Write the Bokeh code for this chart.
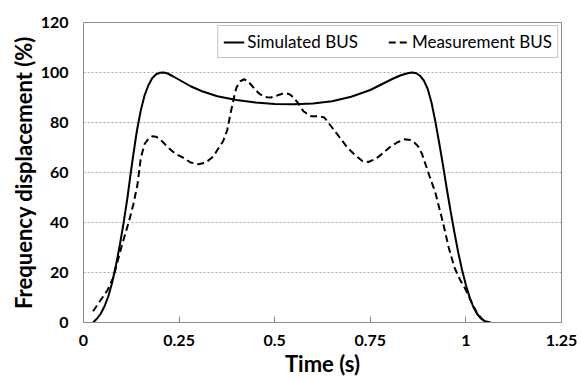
from bokeh.plotting import figure
from bokeh.models import Legend, LegendItem, FixedTicker, Range1d
from bokeh.embed import file_html
from bokeh.resources import INLINE

# Simulated BUS
t_sim = [0.025, 0.035, 0.045, 0.055, 0.065, 0.075, 0.085, 0.095, 0.105, 0.115, 0.125,
         0.135, 0.14, 0.15, 0.16, 0.17, 0.18, 0.19, 0.20, 0.21, 0.22, 0.235, 0.25,
         0.28, 0.31, 0.35, 0.40, 0.45, 0.50, 0.55, 0.60, 0.65, 0.70, 0.75, 0.78, 0.81,
         0.83, 0.85, 0.86, 0.87, 0.88, 0.89, 0.90, 0.91, 0.92, 0.93, 0.94, 0.95, 0.96,
         0.97, 0.98, 0.99, 1.00, 1.01, 1.02, 1.03, 1.04, 1.05, 1.065]
y_sim = [0.0, 1.5, 3.5, 6.5, 10.5, 16, 23, 31, 40, 50, 61.5,
         72, 77, 85, 91, 95, 97.8, 99.3, 99.9, 100, 99.6, 98.4, 97.1,
         94.5, 92.5, 90.5, 89, 88, 87.4, 87.3, 87.6, 88.5, 90.3, 93, 95.3, 97.6,
         98.9, 99.8, 100, 99.7, 98.7, 96.8, 93.5, 88, 80.5, 72, 63, 53.5, 44.5,
         36, 28, 21, 15, 10, 6, 3.3, 1.5, 0.5, 0.0]

# Measurement BUS
t_meas = [0.025, 0.045, 0.063, 0.078, 0.097, 0.118, 0.13, 0.141, 0.15, 0.16, 0.17, 0.18,
          0.19, 0.20, 0.21, 0.22, 0.24, 0.26, 0.28, 0.30, 0.32, 0.34, 0.35, 0.365, 0.376,
          0.385, 0.395, 0.40, 0.41, 0.42, 0.43, 0.44, 0.45, 0.46, 0.47, 0.48, 0.49, 0.50,
          0.51, 0.52, 0.53, 0.54, 0.55, 0.56, 0.575, 0.595, 0.615, 0.63, 0.65, 0.67, 0.69,
          0.71, 0.73, 0.745, 0.765, 0.785, 0.80, 0.82, 0.84, 0.855, 0.865, 0.875, 0.885,
          0.895, 0.905, 0.92, 0.94, 0.955, 0.97, 0.985, 1.0, 1.015, 1.03, 1.045, 1.055]
y_meas = [4.5, 9, 13, 18, 29, 40, 47, 55, 66, 71.5, 73.5, 74.5,
          74.3, 73.3, 71.8, 70.2, 67.5, 66, 64, 63.3, 64, 66.5, 69, 72.5, 77,
          84, 91, 94, 96.5, 97.3, 96.5, 94.8, 93, 91.5, 90.5, 90.1, 90, 90.4,
          91, 91.5, 91.7, 91.2, 89.8, 88, 84.5, 82.5, 82.5, 82, 78, 74, 70,
          67, 64.5, 64.2, 65.5, 68, 70, 72, 73.3, 73, 72, 70.5, 67.5,
          63, 58.5, 52, 40, 30, 22, 17, 13, 8, 3.5, 1.0, 0.0]

x_ticks = [0, 0.25, 0.5, 0.75, 1.0, 1.25]
x_tick_labels = ["0", "0.25", "0.5", "0.75", "1", "1.25"]
y_ticks = [0, 20, 40, 60, 80, 100, 120]

FONT = "Lato"

p = figure(width=581, height=379, output_backend="svg", toolbar_location=None,
           x_range=Range1d(0, 1.25), y_range=Range1d(0, 120),
           min_border_left=83, min_border_right=20, min_border_top=22, min_border_bottom=56)
p.background_fill_color = "white"
p.border_fill_color = "white"
p.outline_line_color = "#8c8c8c"
p.outline_line_width = 1

r_sim = p.line(t_sim, y_sim, line_color="black", line_width=2)
r_meas = p.line(t_meas, y_meas, line_color="black", line_width=2, line_dash="7 4")

# axes
p.xaxis.ticker = FixedTicker(ticks=x_ticks)
p.xaxis.major_label_overrides = {t: l for t, l in zip(x_ticks, x_tick_labels)}
p.yaxis.ticker = FixedTicker(ticks=y_ticks)
for ax in (p.xaxis, p.yaxis):
    ax.axis_line_color = "#8c8c8c"
    ax.major_tick_line_color = "#8c8c8c"
    ax.minor_tick_line_color = None
    ax.major_label_text_font = FONT
    ax.major_label_text_font_style = "bold"
    ax.major_label_text_font_size = "16px"
    ax.major_label_text_color = "black"
    ax.axis_label_text_font = FONT
    ax.axis_label_text_font_style = "bold"
    ax.axis_label_text_font_size = "22px"
    ax.axis_label_text_color = "black"
p.xaxis.major_tick_in = 6
p.xaxis.major_tick_out = 0
p.yaxis.major_tick_in = 0
p.yaxis.major_tick_out = 0
p.xaxis.major_label_standoff = 12
p.yaxis.major_label_standoff = 15
p.xaxis.axis_label = "Time (s)"
p.yaxis.axis_label = "Frequency displacement (%)"
p.xaxis.axis_label_standoff = 1
p.yaxis.axis_label_standoff = 1

p.xgrid.grid_line_color = None
p.ygrid.grid_line_color = "#a8a8a8"
p.ygrid.grid_line_dash = "2 2"
p.ygrid.grid_line_width = 1

legend = Legend(items=[LegendItem(label="Simulated BUS", renderers=[r_sim]),
                       LegendItem(label="Measurement BUS", renderers=[r_meas])],
                orientation="horizontal", location="top_right")
legend.margin = 3
legend.padding = 5
legend.spacing = 30
legend.glyph_width = 21
legend.glyph_height = 18
legend.label_standoff = 3
legend.label_text_font = FONT
legend.label_text_font_size = "17px"
legend.label_text_color = "black"
legend.border_line_color = "#8c8c8c"
legend.border_line_width = 1
legend.background_fill_color = "white"
legend.background_fill_alpha = 1.0
p.add_layout(legend, "center")

open("out.html", "w").write(file_html(p, INLINE))
